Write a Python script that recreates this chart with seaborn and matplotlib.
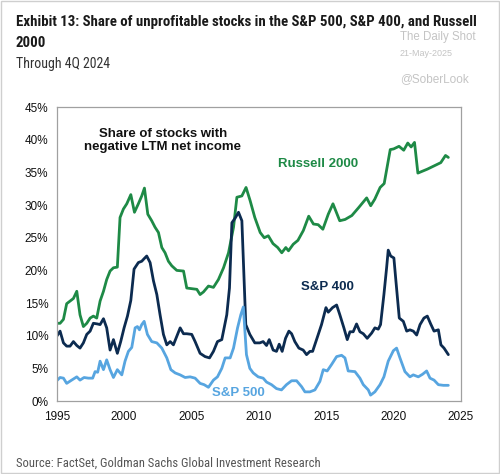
import matplotlib
matplotlib.use("Agg")
import matplotlib.pyplot as plt
import seaborn as sns
import pandas as pd
from matplotlib.patches import Rectangle
from matplotlib import font_manager

# ---------------- data (share of stocks with negative LTM net income, %) ----------------
r2000_x = [1995.0, 1995.25, 1995.5, 1995.74, 1995.99, 1996.24, 1996.49, 1996.73, 1996.98, 1997.23,
           1997.48, 1997.72, 1997.97, 1998.22, 1998.47, 1998.71, 1998.96, 1999.21, 1999.5, 1999.7,
           1999.95, 2000.2, 2000.5, 2000.77, 2001.06, 2001.31, 2001.51, 2001.76, 2002.05, 2002.3,
           2002.55, 2002.8, 2003.04, 2003.29, 2003.54, 2003.91, 2004.41, 2004.65, 2005.02, 2005.4,
           2005.64, 2005.89, 2006.26, 2006.63, 2007.0, 2007.38, 2007.75, 2008.12, 2008.37, 2008.74,
           2009.05, 2009.35, 2009.7, 2010.1, 2010.4, 2010.7, 2011.05, 2011.4, 2011.7, 2012.0,
           2012.2, 2012.55, 2012.9, 2013.3, 2013.7, 2014.05, 2014.4, 2014.75, 2015.15, 2015.5,
           2016.0, 2016.4, 2016.9, 2017.4, 2018.0, 2018.3, 2018.6, 2019.0, 2019.3, 2019.75,
           2020.0, 2020.4, 2020.75, 2021.05, 2021.3, 2021.55, 2021.8, 2022.5, 2023.0, 2023.5,
           2023.85, 2024.06]
r2000_y = [11.9, 11.9, 12.5, 14.9, 15.3, 15.7, 16.8, 13.2, 11.4, 11.9,
           12.7, 13.0, 12.7, 15.3, 16.8, 18.6, 19.9, 20.4, 20.5, 28.1,
           29.4, 30.2, 31.6, 28.9, 30.2, 31.4, 32.6, 28.6, 27.6, 26.6,
           25.8, 23.5, 22.7, 21.4, 20.7, 20.0, 19.9, 17.3, 17.2, 17.1,
           16.3, 16.7, 17.6, 17.4, 18.6, 20.4, 22.7, 26.6, 31.2, 31.4,
           32.7, 30.7, 28.1, 25.8, 25.0, 25.3, 24.1, 23.5, 22.7, 23.5,
           23.0, 24.0, 24.6, 26.1, 28.3, 27.1, 27.0, 26.3, 28.6, 30.2,
           27.6, 27.8, 28.4, 29.6, 31.1, 29.9, 30.9, 32.7, 33.3, 38.5,
           38.6, 39.0, 38.4, 39.5, 38.9, 39.6, 34.9, 35.5, 36.0, 36.5,
           37.6, 37.3]

sp400_x = [1995.0, 1995.25, 1995.5, 1995.74, 1995.99, 1996.24, 1996.49, 1996.73, 1996.98, 1997.23,
           1997.48, 1997.72, 1998.02, 1998.22, 1998.47, 1998.71, 1998.96, 1999.21, 1999.5, 1999.75,
           2000.0, 2000.25, 2000.5, 2000.74, 2001.06, 2001.31, 2001.49, 2001.68, 2001.93, 2002.18,
           2002.43, 2002.67, 2002.92, 2003.17, 2003.42, 2003.66, 2003.91, 2004.16, 2004.41, 2004.65,
           2005.02, 2005.27, 2005.64, 2006.01, 2006.34, 2006.63, 2006.93, 2007.25, 2007.62, 2007.82,
           2008.0, 2008.24, 2008.49, 2008.74, 2009.03, 2009.33, 2009.7, 2010.07, 2010.32, 2010.57,
           2010.77, 2011.06, 2011.31, 2011.51, 2011.73, 2011.98, 2012.23, 2012.43, 2012.67, 2012.97,
           2013.29, 2013.54, 2013.79, 2013.99, 2014.41, 2014.65, 2014.98, 2015.15, 2015.47, 2015.77,
           2016.01, 2016.31, 2016.56, 2016.76, 2017.0, 2017.25, 2017.5, 2017.75, 2018.04, 2018.37,
           2018.61, 2018.86, 2019.03, 2019.28, 2019.48, 2019.6, 2019.78, 2020.02, 2020.17, 2020.42,
           2020.72, 2020.97, 2021.21, 2021.46, 2021.71, 2021.96, 2022.25, 2022.5, 2022.75, 2023.0,
           2023.32, 2023.51, 2023.74, 2024.06]
sp400_y = [9.9, 10.7, 8.9, 8.4, 8.4, 9.1, 8.5, 8.1, 8.9, 10.2,
           10.7, 11.9, 11.8, 11.7, 12.6, 11.2, 7.8, 9.4, 7.3, 9.1,
           11.2, 13.0, 15.4, 20.2, 21.2, 21.4, 21.8, 22.2, 21.2, 18.4,
           16.3, 13.2, 10.2, 8.6, 9.1, 8.6, 9.9, 11.2, 10.3, 10.3,
           10.2, 9.1, 7.3, 6.8, 6.6, 7.6, 9.1, 9.4, 13.2, 17.3,
           27.3, 28.0, 28.9, 27.6, 11.7, 10.2, 8.9, 8.9, 9.1, 8.5,
           9.4, 7.8, 7.6, 8.7, 7.6, 9.6, 10.7, 10.3, 9.1, 8.1,
           7.8, 7.1, 7.6, 7.6, 10.2, 11.7, 14.3, 13.6, 14.3, 14.7,
           13.2, 11.2, 9.4, 10.6, 10.6, 11.8, 10.6, 10.3, 9.6, 10.4,
           11.2, 11.0, 11.7, 16.3, 20.4, 23.1, 22.2, 21.9, 18.4, 12.7,
           12.2, 10.7, 10.9, 10.7, 10.1, 11.7, 12.7, 13.0, 11.8, 10.7,
           10.9, 8.6, 8.1, 7.1]

sp500_x = [1995.0, 1995.25, 1995.5, 1995.74, 1996.11, 1996.49, 1996.73, 1997.03, 1997.35, 1997.67,
           1997.85, 1998.04, 1998.22, 1998.47, 1998.71, 1998.96, 1999.21, 1999.5, 1999.83, 2000.07,
           2000.32, 2000.57, 2000.82, 2000.99, 2001.14, 2001.31, 2001.49, 2001.73, 2002.05, 2002.43,
           2002.8, 2003.17, 2003.47, 2003.79, 2004.16, 2004.53, 2004.9, 2005.27, 2005.64, 2005.94,
           2006.26, 2006.63, 2006.93, 2007.25, 2007.5, 2007.87, 2008.12, 2008.42, 2008.66, 2008.85,
           2009.08, 2009.33, 2009.58, 2009.95, 2010.32, 2010.57, 2010.94, 2011.31, 2011.68, 2012.05,
           2012.43, 2012.8, 2013.17, 2013.42, 2013.79, 2014.16, 2014.53, 2014.78, 2015.07, 2015.4,
           2015.77, 2016.14, 2016.39, 2016.63, 2017.13, 2017.5, 2017.75, 2018.12, 2018.29, 2018.61,
           2018.99, 2019.28, 2019.6, 2019.98, 2020.22, 2020.47, 2020.84, 2021.21, 2021.46, 2021.83,
           2022.15, 2022.45, 2022.7, 2023.0, 2023.32, 2023.69, 2024.06]
sp500_y = [3.1, 3.6, 3.5, 2.7, 3.2, 3.7, 3.2, 3.6, 3.5, 3.5,
           4.5, 4.4, 6.1, 4.8, 6.3, 4.8, 3.6, 4.8, 4.0, 6.1,
           7.6, 8.2, 11.2, 11.4, 10.9, 11.7, 12.2, 10.2, 9.1, 8.9,
           8.1, 6.6, 4.8, 4.3, 4.0, 3.6, 3.7, 3.5, 2.7, 2.5,
           2.1, 3.2, 3.7, 5.0, 6.6, 6.6, 8.1, 11.2, 13.2, 14.4,
           7.1, 5.0, 4.3, 3.7, 3.5, 2.9, 2.5, 1.9, 1.7, 2.5,
           3.1, 3.1, 2.2, 1.4, 1.4, 1.7, 3.0, 4.8, 4.6, 5.6,
           6.8, 7.0, 6.6, 4.6, 4.5, 3.5, 2.5, 1.7, 0.9, 1.4,
           2.5, 3.7, 6.1, 7.7, 8.1, 6.6, 4.5, 3.7, 4.0, 3.7,
           4.1, 4.6, 3.5, 3.2, 2.5, 2.4, 2.4]

x_ticks = [1995, 2000, 2005, 2010, 2015, 2020, 2025]
y_ticks = [0, 5, 10, 15, 20, 25, 30, 35, 40, 45]
y_tick_labels = [f"{v}%" for v in y_ticks]

series_names = ["Russell 2000", "S&P 400", "S&P 500"]
colors = {"Russell 2000": "#1e8a46", "S&P 400": "#0c2b50", "S&P 500": "#57a5e0"}

frames = []
for name, xs, ys in zip(series_names, [r2000_x, sp400_x, sp500_x], [r2000_y, sp400_y, sp500_y]):
    frames.append(pd.DataFrame({"year": xs, "share": ys, "series": name}))
df = pd.concat(frames, ignore_index=True)

# ---------------- styling ----------------
sns.set_style("white")
plt.rcParams["font.family"] = ["Liberation Sans", "DejaVu Sans"]

installed = {f.name for f in font_manager.fontManager.ttflist}
narrow = [f for f in ["Roboto Condensed", "DejaVu Sans Condensed", "Liberation Sans Narrow"]
          if f in installed]
condensed_ok = len(narrow) > 0
narrow = narrow + ["Liberation Sans", "DejaVu Sans"]
scale = 1.0 if condensed_ok else 0.88

fig = plt.figure(figsize=(5.0, 4.74), dpi=100)
ax = fig.add_axes([0.1134, 0.154, 0.8086, 0.620])

sns.lineplot(data=df, x="year", y="share", hue="series", palette=colors,
             hue_order=series_names, linewidth=2.0, ax=ax, legend=False,
             estimator=None, sort=False)

ax.set_xlim(1995, 2025)
ax.set_ylim(0, 45)
ax.set_xticks(x_ticks)
ax.set_xticklabels([str(t) for t in x_ticks], fontsize=8.5, color="#111111")
ax.set_yticks(y_ticks)
ax.set_yticklabels(y_tick_labels, fontsize=8.5, color="#111111")
ax.set_xlabel("")
ax.set_ylabel("")
ax.tick_params(axis="x", direction="out", length=4, width=0.8, color="#888888", pad=3)
ax.tick_params(axis="y", length=0, pad=6)
for s in ax.spines.values():
    s.set_color("#a0a0a0")
    s.set_linewidth(0.9)

# in-chart labels
ax.text(0.262, 0.93, "Share of stocks with\nnegative LTM net income", transform=ax.transAxes,
        ha="center", va="top", fontsize=9.5, fontweight="bold", color="#111111", linespacing=1.15)
ax.text(2014.4, 36.3, "Russell 2000", ha="center", va="center", fontsize=9.5,
        fontweight="bold", color=colors["Russell 2000"])
ax.text(2015.1, 17.5, "S&P 400", ha="center", va="center", fontsize=9.5,
        fontweight="bold", color=colors["S&P 400"])
ax.text(2008.5, 1.2, "S&P 500", ha="center", va="center", fontsize=9.5,
        fontweight="bold", color=colors["S&P 500"])

# titles and notes
fig.text(16 / 500, 1 - 22 / 474,
         "Exhibit 13: Share of unprofitable stocks in the S&P 500, S&P 400, and Russell",
         ha="left", va="center", fontsize=10.7 * scale,
         fontweight="bold", color="#1a1a1a", family=narrow)
fig.text(16 / 500, 1 - 43 / 474, "2000", ha="left", va="center", fontsize=10.7 * scale,
         fontweight="bold", color="#1a1a1a", family=narrow)
fig.text(16 / 500, 1 - 64 / 474, "Through 4Q 2024", ha="left", va="center", fontsize=10 * scale,
         color="#333333", family=narrow)
fig.text(16 / 500, 1 - 463 / 474,
         "Source: FactSet, Goldman Sachs Global Investment Research",
         ha="left", va="center", fontsize=9.1 * scale, color="#555555", family=narrow)

# watermark
fig.text(400 / 500, 1 - 37 / 474, "The Daily Shot", ha="left", va="center", fontsize=8.3,
         color="#c4c4c4")
fig.text(400 / 500, 1 - 53 / 474, "21-May-2025", ha="left", va="center", fontsize=6.5,
         color="#c4c4c4")
fig.text(400 / 500, 1 - 79 / 474, "@SoberLook", ha="left", va="center", fontsize=8.5,
         color="#c4c4c4")

fig.patches.append(Rectangle((0.002, 0.002), 0.996, 0.996, transform=fig.transFigure,
                             fill=False, edgecolor="#cfcfcf", linewidth=1.0))

fig.savefig("out.png", dpi=100)
